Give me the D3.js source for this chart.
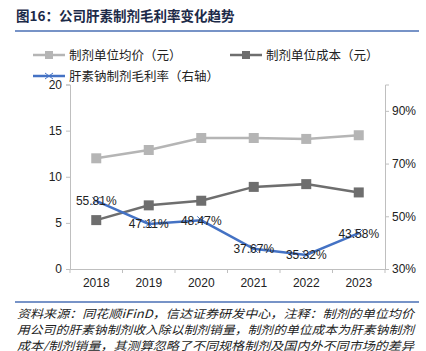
<!DOCTYPE html>
<html>
<head>
<meta charset="utf-8">
<script src="https://cdn.jsdelivr.net/npm/d3@7"></script>
<style>
  body { margin: 0; background: #fff; }
  svg { display: block; font-family: "Noto Sans CJK SC", sans-serif; }
</style>
</head>
<body>
<svg id="drawing_region"></svg>
<script>
// data
const years = ['2018', '2019', '2020', '2021', '2022', '2023'];
const avgPrice = [12.0, 12.9, 14.2, 14.2, 14.1, 14.5];
const unitCost = [5.3, 6.9, 7.4, 8.9, 9.2, 8.3];
const margin = [55.81, 47.11, 48.47, 37.67, 35.32, 43.58];
const leftTicks = [0, 5, 10, 15, 20];
const rightTicks = [30, 50, 70, 90];

const W = 426, H = 351;
const svg = d3.select('#drawing_region').attr('width', W).attr('height', H);

// title
svg.append('text')
    .attr('x', 16).attr('y', 21)
    .attr('font-size', 13.5).attr('font-weight', 'bold')
    .attr('fill', '#1c2a48')
    .text('图16：公司肝素制剂毛利率变化趋势');
svg.append('line')
    .attr('x1', 15).attr('x2', 419).attr('y1', 31).attr('y2', 31)
    .attr('stroke', '#4a6fb5').attr('stroke-width', 1.5);

const plot = {left: 70, right: 385, top: 84.5, bottom: 269};

const x = d3.scaleBand().domain(years).range([plot.left, plot.right]);
const yL = d3.scaleLinear().domain([0, 20]).range([plot.bottom, plot.top]);
const yR = d3.scaleLinear().domain([30, 100]).range([plot.bottom, plot.top]);

const cx = d => x(d) + x.bandwidth() / 2;

// axes
const axL = d3.axisLeft(yL).tickValues(leftTicks).tickSize(4).tickPadding(4);
const axR = d3.axisRight(yR).tickValues(rightTicks).tickSize(4).tickPadding(3)
    .tickFormat(d => d + '%');
const axB = d3.axisBottom(x).tickSize(0).tickPadding(9);

const gL = svg.append('g').attr('transform', `translate(${plot.left},0)`).call(axL);
const gR = svg.append('g').attr('transform', `translate(${plot.right},0)`).call(axR);
const gB = svg.append('g').attr('transform', `translate(0,${plot.bottom})`).call(axB);

// category tick marks
gB.selectAll('.cat-tick')
    .data(d3.range(years.length + 1))
    .enter().append('line')
    .attr('x1', i => plot.left + i * x.step())
    .attr('x2', i => plot.left + i * x.step())
    .attr('y1', 0).attr('y2', 4)
    .attr('stroke', '#bfbfbf');

[gL, gR, gB].forEach(g => {
    g.selectAll('path.domain').attr('stroke', '#bfbfbf');
    g.selectAll('.tick line').attr('stroke', '#bfbfbf');
    g.selectAll('text')
        .attr('font-family', 'Liberation Sans, Arial, sans-serif')
        .attr('font-size', 12).attr('fill', '#222');
});

// lines
const lineL = d3.line().x((d, i) => cx(years[i])).y(d => yL(d));
const lineR = d3.line().x((d, i) => cx(years[i])).y(d => yR(d));

function squareSeries(vals, color) {
    svg.append('path')
        .attr('d', lineL(vals))
        .attr('fill', 'none').attr('stroke', color).attr('stroke-width', 2.5);
    svg.selectAll(null).data(vals).enter().append('rect')
        .attr('x', (d, i) => cx(years[i]) - 5)
        .attr('y', d => yL(d) - 5)
        .attr('width', 10).attr('height', 10)
        .attr('fill', color);
}
squareSeries(avgPrice, '#b5b5b5');
squareSeries(unitCost, '#6e6e6e');

const blue = '#4472c4';
svg.append('path')
    .attr('d', lineR(margin))
    .attr('fill', 'none').attr('stroke', blue).attr('stroke-width', 2.5);
svg.selectAll(null).data(margin).enter().append('path')
    .attr('d', (d, i) => {
        const px = cx(years[i]), py = yR(d), s = 4;
        return `M${px - s},${py - s}L${px + s},${py + s}M${px - s},${py + s}L${px + s},${py - s}`;
    })
    .attr('stroke', blue).attr('stroke-width', 1);

// labels centred on the points
svg.selectAll(null).data(margin).enter().append('text')
    .attr('x', (d, i) => cx(years[i]))
    .attr('y', d => yR(d) + 4.5)
    .attr('text-anchor', 'middle')
    .attr('font-family', 'Liberation Sans, Arial, sans-serif')
    .attr('font-size', 12).attr('fill', '#222')
    .text(d => d.toFixed(2) + '%');

// legend
const legend = [
    {name: '制剂单位均价（元）', color: '#b5b5b5', mark: 'sq', x: 33, y: 55},
    {name: '制剂单位成本（元）', color: '#6e6e6e', mark: 'sq', x: 230, y: 55},
    {name: '肝素钠制剂毛利率（右轴）', color: blue, mark: 'x', x: 33, y: 76}
];
const lg = svg.selectAll('.legend').data(legend).enter().append('g')
    .attr('transform', d => `translate(${d.x},${d.y})`);
lg.append('line')
    .attr('x1', 0).attr('x2', 32).attr('y1', 0).attr('y2', 0)
    .attr('stroke', d => d.color).attr('stroke-width', 2.5);
lg.filter(d => d.mark === 'sq').append('rect')
    .attr('x', 12).attr('y', -4).attr('width', 8).attr('height', 8)
    .attr('fill', d => d.color);
lg.filter(d => d.mark === 'x').append('path')
    .attr('d', 'M12,-3L20,3M12,3L20,-3')
    .attr('stroke', blue).attr('stroke-width', 1);
lg.append('text')
    .attr('x', 36).attr('y', 4.5)
    .attr('font-size', 12.5).attr('fill', '#222')
    .text(d => d.name);

// footer
svg.append('line')
    .attr('x1', 15).attr('x2', 419).attr('y1', 302).attr('y2', 302)
    .attr('stroke', '#4a6fb5').attr('stroke-width', 1.5);
const notes = [
    '资料来源：同花顺iFinD，信达证券研发中心，注释：制剂的单位均价',
    '用公司的肝素钠制剂收入除以制剂销量，制剂的单位成本为肝素钠制剂',
    '成本/制剂销量，其测算忽略了不同规格制剂及国内外不同市场的差异'
];
svg.selectAll('.note').data(notes).enter().append('text')
    .attr('x', 17).attr('y', (d, i) => 317.5 + i * 16)
    .attr('font-size', 11.5).attr('font-style', 'italic').attr('fill', '#222')
    .attr('textLength', 397).attr('lengthAdjust', 'spacingAndGlyphs')
    .text(d => d);
</script>
</body>
</html>
